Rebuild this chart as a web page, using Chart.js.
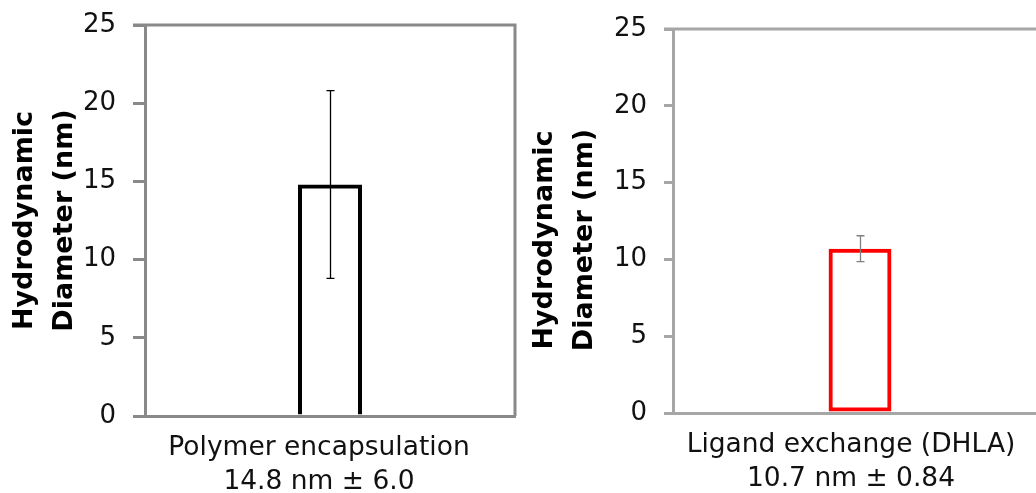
<!DOCTYPE html>
<html>
<head>
<meta charset="utf-8">
<script src="https://cdn.jsdelivr.net/npm/chart.js@4/dist/chart.umd.min.js"></script>
<style>
  html, body { margin: 0; padding: 0; background: #fff; overflow: hidden; width: 1036px; height: 493px; }
  .wrap { position: absolute; top: 0; height: 493px; }
  #w1 { left: 0; width: 530px; }
  #w2 { left: 520px; width: 530px; }
</style>
</head>
<body>
<div class="wrap" id="w1"><canvas id="c1"></canvas></div>
<div class="wrap" id="w2"><canvas id="c2"></canvas></div>
<script>
// ---- data ----
const categoryA = [['Polymer encapsulation', '14.8 nm ± 6.0']];
const valuesA = [14.8];
const errorsA = [6.0];

const categoryB = [['Ligand exchange (DHLA)', '10.7 nm ± 0.84']];
const valuesB = [10.7];
const errorsB = [0.84];

const yTitle = ['Hydrodynamic', 'Diameter (nm)'];
const yMin = 0, yMax = 25, yStep = 5;

// ---- plugins ----
const framePlugin = {
  id: 'frame',
  afterDraw(chart, args, opts) {
    const {ctx, chartArea: a} = chart;
    ctx.save();
    ctx.strokeStyle = opts.color;
    ctx.lineWidth = 3;
    ctx.beginPath();
    ctx.moveTo(a.left - opts.extend, a.top);
    ctx.lineTo(a.right, a.top);
    ctx.lineTo(a.right, a.bottom);
    ctx.stroke();
    ctx.restore();
  }
};

const errorPlugin = {
  id: 'errbars',
  afterDatasetsDraw(chart, args, opts) {
    const {ctx} = chart;
    const y = chart.scales.y;
    chart.data.datasets.forEach((ds, di) => {
      const meta = chart.getDatasetMeta(di);
      meta.data.forEach((bar, i) => {
        const v = ds.data[i], e = ds.errors[i];
        const yTop = y.getPixelForValue(v + e);
        const yBot = y.getPixelForValue(v - e);
        const x = Math.round(bar.x) + 0.5;
        ctx.save();
        ctx.strokeStyle = opts.color;
        ctx.lineWidth = opts.width;
        ctx.beginPath();
        ctx.moveTo(x, yTop); ctx.lineTo(x, yBot);
        ctx.moveTo(x - opts.cap, yTop); ctx.lineTo(x + opts.cap, yTop);
        ctx.moveTo(x - opts.cap, yBot); ctx.lineTo(x + opts.cap, yBot);
        ctx.stroke();
        ctx.restore();
      });
    });
  }
};

function makeChart(id, cats, vals, errs, cfg) {
  return new Chart(document.getElementById(id), {
    type: 'bar',
    data: {
      labels: cats,
      datasets: [{
        data: vals,
        errors: errs,
        backgroundColor: 'rgba(255,255,255,0)',
        borderColor: cfg.barColor,
        borderWidth: 4,
        borderSkipped: cfg.skip,
        categoryPercentage: 1,
        barPercentage: cfg.barPct
      }]
    },
    options: {
      responsive: true,
      maintainAspectRatio: false,
      animation: false,
      layout: { padding: { top: cfg.padTop, right: cfg.padRight, left: 0, bottom: 0 } },
      plugins: {
        legend: { display: false },
        tooltip: { enabled: false },
        frame: { color: cfg.frameColor, extend: cfg.tickLen },
        errbars: { color: cfg.errColor, width: 1.3, cap: 4 }
      },
      scales: {
        x: {
          grid: { display: false, drawTicks: false },
          border: { display: true, color: cfg.frameColor, width: 3 },
          ticks: {
            color: '#111',
            padding: 16,
            labelOffset: cfg.labelOffset,
            maxRotation: 0,
            font: { family: 'DejaVu Sans', size: 26.5, lineHeight: 1.25 }
          },
          afterFit(s) { s.height = cfg.xHeight; s.paddingLeft = 0; s.paddingRight = 0; }
        },
        y: {
          min: yMin, max: yMax,
          grid: { display: true, drawOnChartArea: false, drawTicks: true, tickLength: cfg.tickLen, color: cfg.frameColor, lineWidth: 3 },
          border: { display: true, color: cfg.frameColor, width: 3 },
          ticks: {
            stepSize: yStep,
            color: '#111',
            padding: 17,
            font: { family: 'DejaVu Sans', size: 26 }
          },
          title: {
            display: true,
            text: yTitle,
            color: '#000',
            padding: { top: 5, bottom: 0 },
            font: { family: 'DejaVu Sans', size: 27, weight: 'bold', lineHeight: 1.48 }
          },
          afterFit(s) {
            s.width = cfg.yWidth;
            s.paddingTop = 0;
            s.paddingBottom = 0;
            if (cfg.titleShift && !s._shiftPatched) {
              const orig = s.drawTitle;
              s.drawTitle = function () {
                this.ctx.save();
                this.ctx.translate(0, cfg.titleShift);
                orig.call(this);
                this.ctx.restore();
              };
              s._shiftPatched = true;
            }
          }
        }
      }
    },
    plugins: [framePlugin, errorPlugin]
  });
}

makeChart('c1', categoryA, valuesA, errorsA, {
  barColor: '#000000', skip: 'start', barPct: 0.173,
  frameColor: '#898989', errColor: '#000000',
  padTop: 25, padRight: 15, xHeight: 77, yWidth: 145, tickLen: 12,
  labelOffset: -11, titleShift: 0
});

makeChart('c2', categoryB, valuesB, errorsB, {
  barColor: '#ff0000', skip: false, barPct: 0.168,
  frameColor: '#a6a6a6', errColor: '#808080',
  padTop: 29, padRight: 3, xHeight: 80, yWidth: 153, tickLen: 9,
  labelOffset: -9, titleShift: 19
});
</script>
</body>
</html>
